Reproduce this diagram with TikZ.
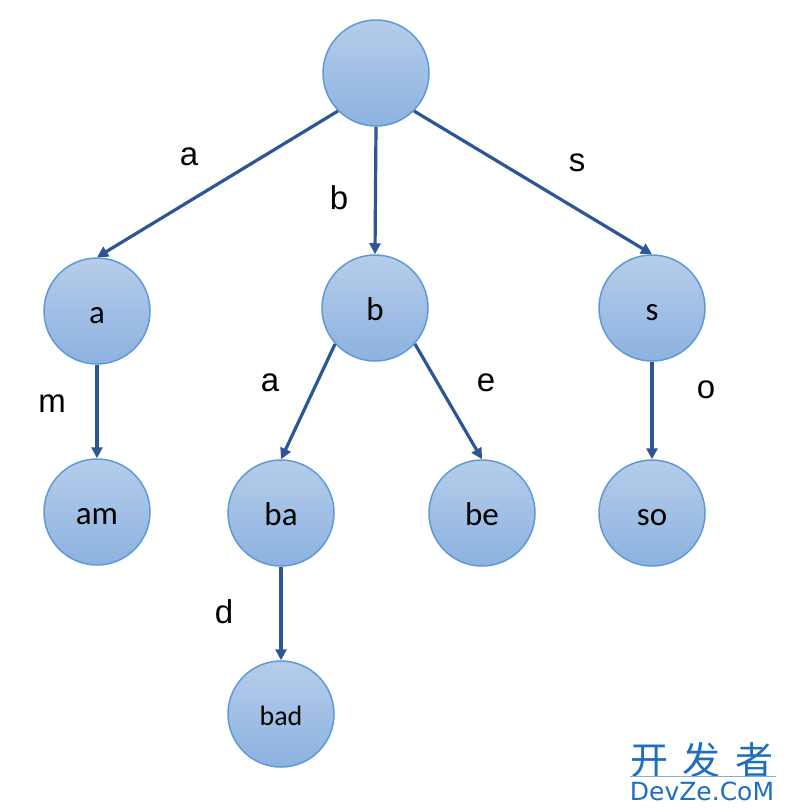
\documentclass[tikz,border=0pt]{standalone}
\usepackage{fontspec}
\setmainfont{Carlito}
\newfontfamily\cjk{Noto Sans CJK SC}
\newfontfamily\wmfont{DejaVu Sans}
\newfontfamily\labfont{Liberation Sans}
\usetikzlibrary{arrows.meta}
\definecolor{nodetop}{HTML}{B6CDEA}
\definecolor{nodebot}{HTML}{8CB2E0}
\definecolor{nodeline}{HTML}{5E9AD6}
\definecolor{edgecol}{HTML}{2E5595}
\definecolor{wmblue}{HTML}{1F6EC1}
\tikzset{
  trie/.style={circle, minimum size=106pt, inner sep=0pt, draw=nodeline, line width=1.5pt,
    top color=nodetop, bottom color=nodebot, font=\fontsize{33}{36}\selectfont,
    text height=24pt, text depth=0pt},
  edge/.style={draw=edgecol, line width=3.2pt, -{Triangle[length=11pt,width=11pt]}},
  elab/.style={font=\labfont\fontsize{33}{36}\selectfont, inner sep=0pt}
}
\begin{document}
\begin{tikzpicture}[x=1pt,y=-1pt]
\useasboundingbox (0,0) rectangle (786,812);
\fill[white] (0,0) rectangle (786,812);
\node[trie] (root) at (376,73) {};
\node[trie] (a) at (97,311) {a};
\node[trie] (b) at (375,308) {b};
\node[trie] (s) at (652,308) {s};
\node[trie] (am) at (97,512) {am};
\node[trie] (ba) at (281,513) {ba};
\node[trie] (be) at (482,513) {be};
\node[trie] (so) at (652,513) {so};
\node[trie, font=\fontsize{28}{30}\selectfont, text height=22pt] (bad) at (281,714) {bad};

\draw[edge] (root.225) -- (a.north);
\draw[edge] (root.south) -- (b.north);
\draw[edge] (root.315) -- (s.north);
\draw[edge] (a) -- (am);
\draw[edge] (b.222) -- (ba.north);
\draw[edge] (b.318) -- (be.north);
\draw[edge] (s) -- (so);
\draw[edge] (ba) -- (bad);

\node[elab] (la) at (189,157) {a};
\node[elab] (lb) at (339,198) {b};
\node[elab] (ls) at (577,163) {s};
\node[elab] (lm) at (52,404) {m};
\node[elab] (la2) at (270,383) {a};
\node[elab] (le) at (486,383) {e};
\node[elab] (lo) at (706,390) {o};
\node[elab] (ld) at (224,612) {d};

\node[text=wmblue, font=\cjk\fontsize{38}{40}\selectfont, inner sep=0pt] (wm1) at (702,760) {开\hspace{15pt}发\hspace{15pt}者};
\draw[wmblue!55, line width=0.7pt] (630,776) -- (776,776);
\node[text=wmblue, font=\wmfont\fontsize{25}{27}\selectfont, inner sep=0pt] (wm2) at (702,791) {DevZe.CoM};
\end{tikzpicture}
\end{document}
